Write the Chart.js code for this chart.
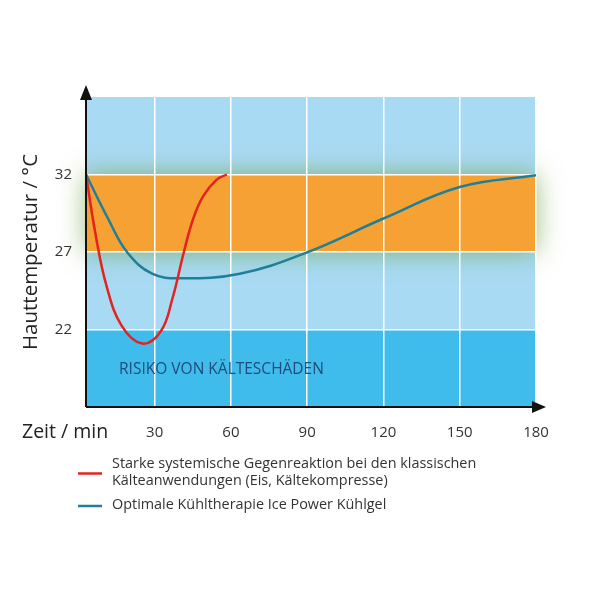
<!DOCTYPE html>
<html>
<head>
<meta charset="utf-8">
<script src="https://cdn.jsdelivr.net/npm/chart.js@4.4.0/dist/chart.umd.min.js"></script>
<style>
html, body { margin: 0; background: #fff; }
#wrap { width: 600px; height: 600px; }
</style>
</head>
<body>
<div id="wrap"><canvas id="c" width="600" height="600"></canvas></div>
<script>
// ═══ DATA ═══
const xTicks = [30, 60, 90, 120, 150, 180];
const yTicks = [22, 27, 32];

// red: classic cold application
const redX = [3, 6.8, 11.1, 17, 25.1, 32.5, 37, 41.5, 45.2, 49.1, 54.4, 58.4];
const redY = [32, 28.1, 24.8, 22.25, 21.09, 21.9, 24, 27, 29.16, 30.6, 31.67, 32];

// teal: Ice Power gel
const tealX = [3, 11.65, 19.2, 29, 40, 63.5, 90, 120, 150, 180];
const tealY = [32, 29.16, 26.98, 25.6, 25.3, 25.6, 26.98, 29.16, 31.19, 31.95];

const bandLow = [17, 22, 27, 32];
const bandHigh = [22, 27, 32, 37];
const bandColors = ['#3fbcec', '#a9daf4', '#f5a133', '#a9daf4'];

const seriesLabels = [
    ['Starke systemische Gegenreaktion bei den klassischen', 'Kälteanwendungen (Eis, Kältekompresse)'],
    ['Optimale Kühltherapie Ice Power Kühlgel']
];
const seriesColors = ['#e3231f', '#1f7f99'];

const FONT = '"Open Sans", "Noto Sans", sans-serif';

// ═══ PLUGINS ═══
const bandsPlugin = {
    id: 'bands',
    beforeDraw(chart) {
        const { ctx, chartArea: a, scales: { y } } = chart;
        ctx.save();
        bandLow.forEach((lo, i) => {
            if (i === 2) return;
            const top = y.getPixelForValue(bandHigh[i]), bot = y.getPixelForValue(lo);
            ctx.fillStyle = bandColors[i];
            ctx.fillRect(a.left, top, a.right - a.left, bot - top);
        });
        // orange comfort band with a soft green glow
        const top = y.getPixelForValue(bandHigh[2]), bot = y.getPixelForValue(bandLow[2]);
        ctx.shadowColor = 'rgba(110,160,60,0.7)';
        ctx.shadowBlur = 26;
        ctx.fillStyle = bandColors[2];
        ctx.fillRect(a.left, top, a.right - a.left, bot - top);
        ctx.restore();
    }
};

const extrasPlugin = {
    id: 'extras',
    afterDraw(chart) {
        const { ctx, chartArea: a, scales: { x, y } } = chart;
        ctx.save();
        // axes with arrows
        ctx.strokeStyle = '#111'; ctx.fillStyle = '#111'; ctx.lineWidth = 2;
        ctx.beginPath();
        ctx.moveTo(a.left, a.bottom); ctx.lineTo(a.left, a.top - 4);
        ctx.moveTo(a.left, a.bottom); ctx.lineTo(a.right + 2, a.bottom);
        ctx.stroke();
        ctx.beginPath();
        ctx.moveTo(a.left, a.top - 12); ctx.lineTo(a.left - 6, a.top + 3); ctx.lineTo(a.left + 6, a.top + 3); ctx.closePath(); ctx.fill();
        ctx.beginPath();
        ctx.moveTo(a.right + 10, a.bottom); ctx.lineTo(a.right - 4, a.bottom - 6); ctx.lineTo(a.right - 4, a.bottom + 6); ctx.closePath(); ctx.fill();

        // x axis title, left of the ticks
        ctx.fillStyle = '#222';
        ctx.font = '19.5px ' + FONT;
        ctx.textAlign = 'left'; ctx.textBaseline = 'middle';
        ctx.fillText('Zeit / min', 22, a.bottom + 25);

        // risk label in the cold zone
        ctx.fillStyle = '#1d4d7a';
        ctx.font = '15.5px "Liberation Sans Narrow", ' + FONT;
        ctx.fillText('RISIKO VON KÄLTESCHÄDEN', x.getPixelForValue(16), y.getPixelForValue(19.4));

        // legend
        ctx.font = '14.4px ' + FONT;
        ctx.fillStyle = '#333';
        let ty = 464;
        seriesLabels.forEach((lines, i) => {
            const midY = ty + (lines.length - 1) * 17 / 2 + 1;
            ctx.strokeStyle = seriesColors[i]; ctx.lineWidth = 2.5;
            ctx.beginPath(); ctx.moveTo(78, midY); ctx.lineTo(102, midY); ctx.stroke();
            lines.forEach((t, j) => ctx.fillText(t, 112, ty + j * 17));
            ty += lines.length * 17 + 7;
        });
        ctx.restore();
    }
};

// ═══ CHART ═══
new Chart(document.getElementById('c'), {
    type: 'line',
    data: {
        datasets: [
            { label: seriesLabels[0].join(' '), data: redX.map((v, i) => ({ x: v, y: redY[i] })), borderColor: seriesColors[0], borderWidth: 2.5, pointRadius: 0, tension: 0.4, fill: false },
            { label: seriesLabels[1].join(' '), data: tealX.map((v, i) => ({ x: v, y: tealY[i] })), borderColor: seriesColors[1], borderWidth: 2.5, pointRadius: 0, tension: 0.4, fill: false }
        ]
    },
    options: {
        responsive: false,
        animation: false,
        layout: { padding: { left: 0, top: 97, right: 64, bottom: 0 } },
        plugins: { legend: { display: false }, tooltip: { enabled: false } },
        scales: {
            x: {
                type: 'linear', min: 3, max: 180,
                afterBuildTicks: s => { s.ticks = xTicks.map(v => ({ value: v })); },
                afterFit: s => { s.height = 193; },
                grid: { color: '#ffffff', lineWidth: 1.5, drawTicks: false },
                border: { display: false },
                ticks: { color: '#333', font: { family: FONT, size: 15 }, padding: 17, maxRotation: 0 }
            },
            y: {
                min: 17, max: 37,
                afterBuildTicks: s => { s.ticks = yTicks.map(v => ({ value: v })); },
                afterFit: s => { s.width = 86; },
                grid: { color: '#ffffff', lineWidth: 1.5, drawTicks: false },
                border: { display: false },
                ticks: { color: '#333', font: { family: FONT, size: 15 }, padding: 14 },
                title: { display: true, text: 'Hauttemperatur / °C', color: '#222', font: { family: FONT, size: 20.5 }, padding: { top: 19, bottom: 0 } }
            }
        }
    },
    plugins: [bandsPlugin, extrasPlugin]
});
</script>
</body>
</html>
